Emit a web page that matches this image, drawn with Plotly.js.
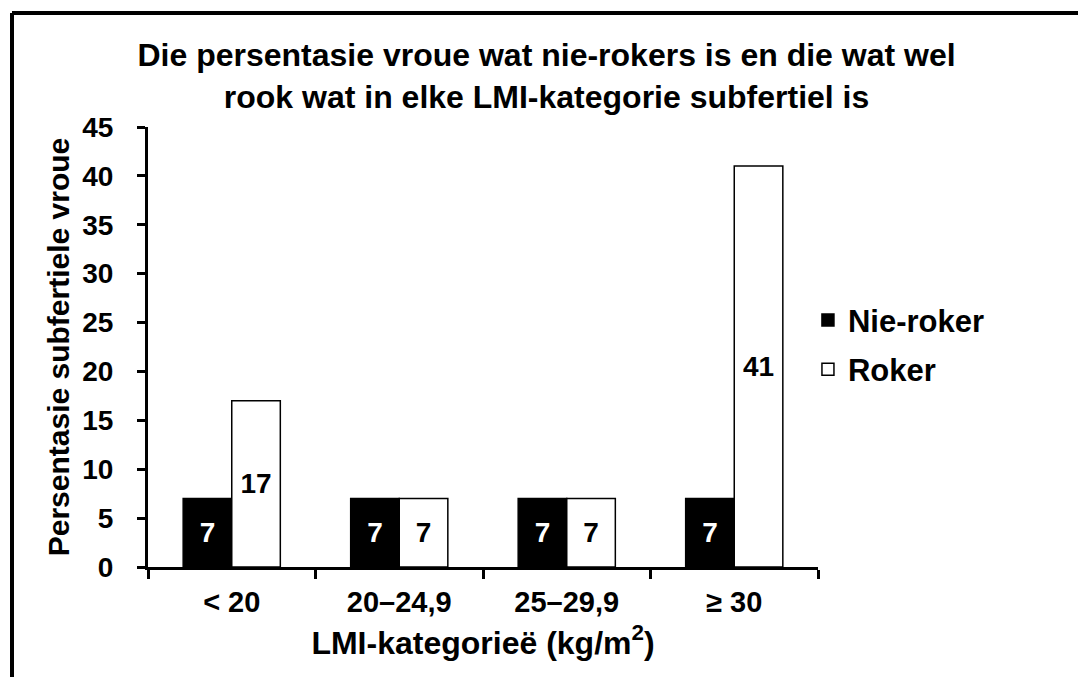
<!DOCTYPE html>
<html>
<head>
<meta charset="utf-8">
<script src="https://cdn.plot.ly/plotly-3.0.1.min.js"></script>
<style>
  html, body { margin: 0; padding: 0; background: #fff; }
  #chart { width: 1078px; height: 677px; }
</style>
</head>
<body>
<div id="chart"></div>
<script>
// Data
const categories = ['< 20', '20–24,9', '25–29,9', '≥ 30'];
const nieRoker = [7, 7, 7, 7];
const roker = [17, 7, 7, 41];
const seriesNames = ['Nie-roker', 'Roker'];
const yTicks = [0, 5, 10, 15, 20, 25, 30, 35, 40, 45];

const FONT = 'Liberation Sans, Arial, Helvetica, sans-serif';

const traces = [
  {
    type: 'bar', name: seriesNames[0], x: categories, y: nieRoker,
    legendgroup: 'a',
    marker: { color: '#000000', line: { color: '#000000', width: 1.5 } },
    texttemplate: '%{y}', textposition: 'inside', insidetextanchor: 'middle',
    textangle: 0, constraintext: 'none',
    textfont: { family: FONT, size: 28, color: '#ffffff', weight: 'bold' },
    hoverinfo: 'skip'
  },
  {
    type: 'bar', name: seriesNames[1], x: categories, y: roker,
    legendgroup: 'b',
    marker: { color: '#ffffff', line: { color: '#000000', width: 1.5 } },
    texttemplate: '%{y}', textposition: 'inside', insidetextanchor: 'middle',
    textangle: 0, constraintext: 'none',
    textfont: { family: FONT, size: 28, color: '#000000', weight: 'bold' },
    hoverinfo: 'skip'
  }
];

const layout = {
  width: 1078, height: 677,
  margin: { l: 148, r: 260, t: 127, b: 110, pad: 0 },
  paper_bgcolor: '#ffffff', plot_bgcolor: '#ffffff',
  font: { family: FONT, color: '#000000', weight: 'bold' },
  barmode: 'group', bargap: 0.42, bargroupgap: 0,
  title: {
    text: 'Die persentasie vroue wat nie-rokers is en die wat wel<br>rook wat in elke LMI-kategorie subfertiel is',
    font: { family: FONT, size: 32, color: '#000000', weight: 'bold' },
    x: 0.507, xref: 'container', xanchor: 'center',
    y: 1 - 66 / 677, yref: 'container', yanchor: 'middle'
  },
  xaxis: {
    type: 'category',
    showline: true, linecolor: '#000000', linewidth: 3,
    ticks: 'outside', tickson: 'boundaries', ticklen: 9, tickwidth: 3, tickcolor: '#000000',
    showgrid: false, zeroline: false,
    tickfont: { family: FONT, size: 29, color: '#000000', weight: 'bold' },
    ticklabelstandoff: 7,
    title: {
      text: 'LMI-kategorieë (kg/m<sup>2</sup>)',
      font: { family: FONT, size: 32, color: '#000000', weight: 'bold' },
      standoff: 15
    },
    fixedrange: true
  },
  yaxis: {
    range: [0, 45], tickvals: yTicks, ticktext: yTicks.map(String),
    showline: true, linecolor: '#000000', linewidth: 3,
    ticks: 'outside', ticklen: 8, tickwidth: 3, tickcolor: '#000000',
    showgrid: false, zeroline: false,
    tickfont: { family: FONT, size: 28, color: '#000000', weight: 'bold' },
    ticklabelstandoff: 18,
    title: {
      text: 'Persentasie subfertiele vroue',
      font: { family: FONT, size: 30, color: '#000000', weight: 'bold' },
      standoff: 4
    },
    fixedrange: true
  },
  showlegend: true,
  legend: {
    x: 0.985, xanchor: 'left', y: 0.505, yanchor: 'middle',
    traceorder: 'grouped', tracegroupgap: 6,
    font: { family: FONT, size: 31, color: '#000000', weight: 'bold' },
    bgcolor: 'rgba(0,0,0,0)', borderwidth: 0, itemwidth: 30
  },
  shapes: [
    { type: 'line', xref: 'paper', yref: 'paper',
      x0: (12 - 148) / 670, x1: 1.45, y0: (567 - 13) / 440, y1: (567 - 13) / 440,
      line: { color: '#000000', width: 4 } },
    { type: 'line', xref: 'paper', yref: 'paper',
      x0: (12 - 148) / 670, x1: (12 - 148) / 670, y0: (567 - 13) / 440, y1: -0.3,
      line: { color: '#000000', width: 4 } }
  ]
};

Plotly.newPlot('chart', traces, layout, { displayModeBar: false, staticPlot: true });
</script>
</body>
</html>
